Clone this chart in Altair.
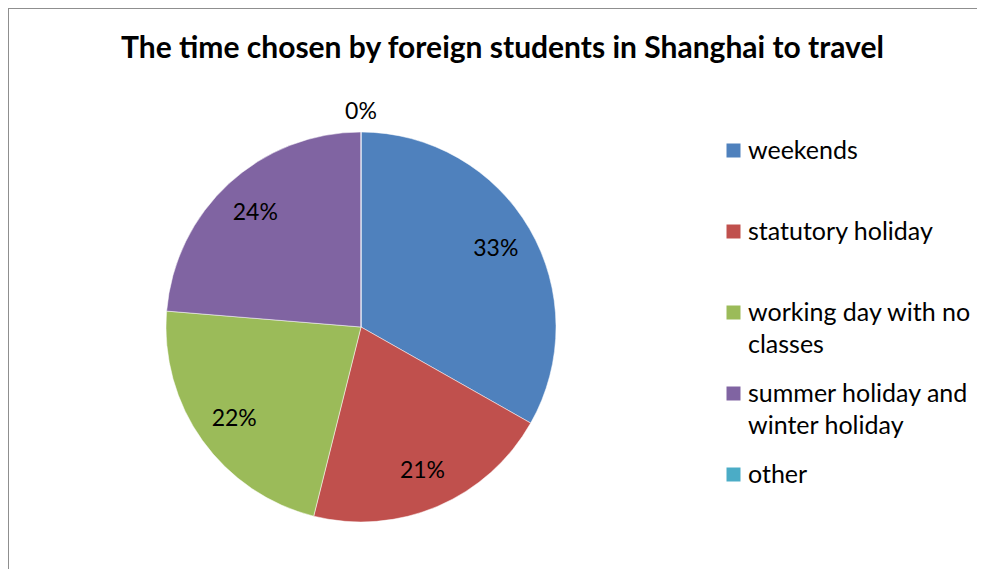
import altair as alt
import pandas as pd

title_text = "The time chosen by foreign students in Shanghai to travel"
categories = [
    "weekends",
    "statutory holiday",
    "working day with no classes",
    "summer holiday and winter holiday",
    "other",
]
shares = [0.332, 0.207, 0.224, 0.237, 0.0]
colors = ["#4F81BD", "#C0504D", "#9BBB59", "#8064A2", "#4BACC6"]

W, H = 969, 561

df = pd.DataFrame({"category": categories, "share": shares, "order": list(range(len(categories)))})

label_expr = (
    "datum.label == 'working day with no classes' ? ['working day with no', 'classes'] : "
    "datum.label == 'summer holiday and winter holiday' ? ['summer holiday and', 'winter holiday'] : datum.label"
)

base = alt.Chart(df).encode(
    theta=alt.Theta("share:Q", stack=True),
    order=alt.Order("order:Q"),
)

pie = base.mark_arc(outerRadius=195, stroke="white", strokeWidth=0.5).encode(
    x=alt.value(353),
    y=alt.value(319),
    color=alt.Color(
        "category:N",
        scale=alt.Scale(domain=categories, range=colors),
        sort=categories,
        legend=alt.Legend(
            title=None,
            orient="none",
            legendX=713,
            legendY=130,
            symbolType="square",
            symbolSize=196,
            symbolStrokeWidth=0,
            labelFont="Lato",
            labelFontSize=25,
            labelColor="black",
            labelOffset=2,
            rowPadding=23,
            gridAlign="all",
            labelExpr=label_expr,
            labelLimit=300,
            padding=0,
        ),
    ),
)

labels = base.mark_text(font="Lato", fontSize=23, color="black", dy=1).transform_calculate(
    lr="datum.share > 0 ? 156 : 216"
).encode(
    x=alt.value(353),
    y=alt.value(319),
    radius=alt.Radius("lr:Q", scale=None),
    text=alt.Text("share:Q", format=".0%"),
)

frame_left = alt.Chart(df).mark_rule(color="#8f8f8f", strokeWidth=2).encode(
    x=alt.value(0), y=alt.value(0), y2=alt.value(H)
)
frame_top = alt.Chart(df).mark_rule(color="#8f8f8f", strokeWidth=2).encode(
    y=alt.value(0), x=alt.value(0), x2=alt.value(W)
)

chart = alt.layer(frame_left, frame_top, pie, labels).properties(
    width=W,
    height=H,
    padding=0,
    autosize="none",
    title=alt.TitleParams(
        title_text,
        font="Lato",
        fontSize=30,
        fontWeight="bold",
        color="black",
        anchor="middle",
        dx=10,
        offset=-57,
    ),
).configure_view(stroke=None).configure(style={"guide-label": {"lineHeight": 32}})

chart.save("out.html", embed_options={"renderer": "svg", "actions": False})
